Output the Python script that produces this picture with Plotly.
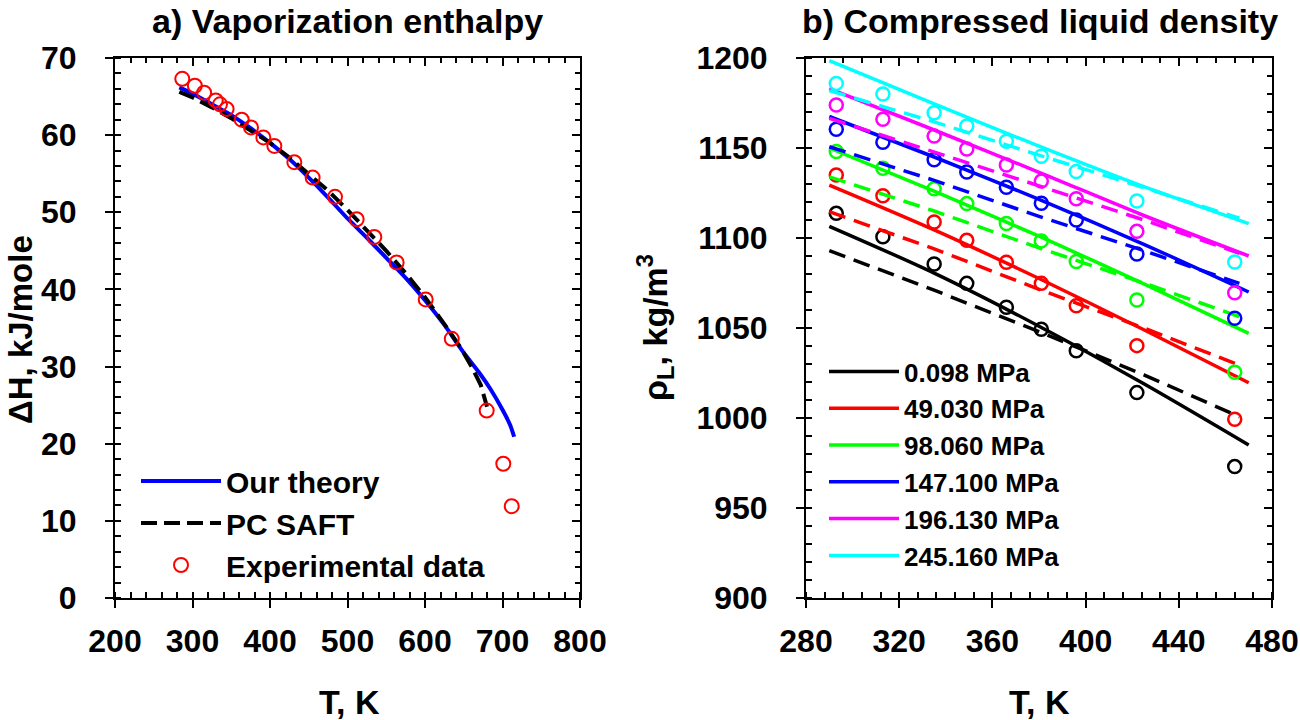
import plotly.graph_objects as go

# ---- a) Vaporization enthalpy ----
t_exp_h = [286.8, 303, 315, 330, 335.5, 344, 363.5, 375.5, 391.4, 405.6, 431.4,
           455, 483.9, 511.8, 534.6, 563.4, 600.9, 634.5, 679.6, 701, 711.9]
h_exp = [67.3, 66.4, 65.5, 64.5, 64.0, 63.4, 62.0, 61.0, 59.7, 58.6, 56.5,
         54.5, 52.0, 49.1, 46.8, 43.5, 38.7, 33.6, 24.3, 17.4, 11.9]

t_theory = [283, 300, 325, 350, 375, 400, 425, 450, 475, 500, 525, 550, 575,
            600, 625, 650, 670, 685, 700, 710, 715]
h_theory = [66.2, 65.4, 64.0, 62.6, 60.9, 59.0, 56.9, 54.5, 51.9, 49.2, 46.7, 44.1, 41.5,
            38.6, 35.4, 31.8, 29.2, 27.0, 24.4, 22.4, 20.9]

t_saft = [283, 300, 325, 350, 375, 400, 425, 450, 475, 500, 525, 550, 575,
          600, 625, 645, 660, 672, 680]
h_saft = [65.6, 64.9, 63.6, 62.2, 60.6, 59.0, 57.1, 55.0, 52.8, 50.3, 47.7, 45.0, 42.1,
          39.0, 35.5, 32.6, 30.0, 27.6, 24.8]

# ---- b) Compressed liquid density ----
pressoes = ["0.098 MPa", "49.030 MPa", "98.060 MPa", "147.100 MPa", "196.130 MPa", "245.160 MPa"]
cores = ["#000000", "#ff0000", "#00ff00", "#0000ff", "#ff00ff", "#00ffff"]

t_exp_rho = [293, 313, 335, 349, 366, 381, 396, 422, 464]
rho_exp = [
    [1113.7, 1100.7, 1085.6, 1074.8, 1061.5, 1049.3, 1037.4, 1014.1, 973.0],
    [1135.0, 1123.5, 1108.9, 1098.7, 1086.5, 1074.8, 1062.4, 1040.2, 999.3],
    [1148.0, 1138.7, 1127.4, 1119.1, 1108.1, 1098.4, 1086.9, 1065.6, 1025.4],
    [1160.4, 1153.2, 1143.5, 1136.7, 1128.2, 1119.3, 1110.0, 1091.1, 1055.4],
    [1173.9, 1166.0, 1156.6, 1149.4, 1140.6, 1131.6, 1121.8, 1103.7, 1069.6],
    [1185.9, 1180.0, 1169.6, 1162.2, 1153.8, 1145.4, 1136.9, 1120.6, 1086.7],
]

t_solid = [290, 335, 380, 425, 470]
rho_solid = [
    [1106.5, 1080.5, 1051, 1019, 985],
    [1129.4, 1104.5, 1077.5, 1049, 1019.6],
    [1150, 1126, 1101, 1074.5, 1047],
    [1167.5, 1145, 1121.5, 1096.5, 1070],
    [1183, 1160, 1136.5, 1112.5, 1090],
    [1198.5, 1174.5, 1151, 1128.5, 1108],
]

t_dash = [290, 335, 380, 425, 466]
rho_dash = [
    [1093, 1071, 1048, 1024, 1000.7],
    [1114.6, 1094, 1071.5, 1050, 1029.4],
    [1134, 1115, 1094.5, 1075, 1056.3],
    [1150.7, 1132, 1112, 1093, 1074.8],
    [1166.5, 1148, 1129, 1110, 1091.5],
    [1181.9, 1164.5, 1146, 1128, 1111],
]

FONTE = "Liberation Sans, Arial, sans-serif"

# figure fills the whole window (body margin removed after plotting)
W, H = 1300, 720


def px(x):
    return x / W


def py(y):
    return 1 - y / H


fig = go.Figure()

fig.add_trace(go.Scatter(x=t_theory, y=h_theory, mode="lines", name="Our theory",
                         line=dict(color="#0000ff", width=4, shape="spline", smoothing=0.6),
                         xaxis="x", yaxis="y", legend="legend"))
fig.add_trace(go.Scatter(x=t_saft, y=h_saft, mode="lines", name="PC SAFT",
                         line=dict(color="#000000", width=4, dash="16px,7px"),
                         xaxis="x", yaxis="y", legend="legend"))
fig.add_trace(go.Scatter(x=t_exp_h, y=h_exp, mode="markers", name="Experimental data",
                         marker=dict(symbol="circle-open", size=14, color="#ff0000", line=dict(width=2)),
                         xaxis="x", yaxis="y", legend="legend"))

for i in range(len(pressoes)):
    fig.add_trace(go.Scatter(x=t_solid, y=rho_solid[i], mode="lines", name=pressoes[i],
                             line=dict(color=cores[i], width=3.5, shape="spline", smoothing=0.8),
                             xaxis="x2", yaxis="y2", legend="legend2"))
    fig.add_trace(go.Scatter(x=t_dash, y=rho_dash[i], mode="lines", showlegend=False,
                             line=dict(color=cores[i], width=3.5, dash="17px,9px"), xaxis="x2", yaxis="y2"))
    fig.add_trace(go.Scatter(x=t_exp_rho, y=rho_exp[i], mode="markers", showlegend=False,
                             marker=dict(symbol="circle-open", size=13, color=cores[i], line=dict(width=2.5)),
                             xaxis="x2", yaxis="y2"))

# transparent copies so the top/right tick axes get drawn
fig.add_trace(go.Scatter(x=t_exp_h, y=h_exp, mode="markers", showlegend=False, hoverinfo="skip",
                         marker=dict(opacity=0), xaxis="x3", yaxis="y3"))
fig.add_trace(go.Scatter(x=t_exp_rho, y=rho_exp[0], mode="markers", showlegend=False, hoverinfo="skip",
                         marker=dict(opacity=0), xaxis="x4", yaxis="y4"))

dom_x1 = [px(115), px(580)]
dom_x2 = [px(806), px(1272)]
dom_y = [py(598), py(58)]

tickfont = dict(family=FONTE, size=32, color="black", weight="bold")


def eixo_base(dominio, faixa, passo, passo_menor, ancora, recuo):
    return dict(domain=dominio, range=faixa, dtick=passo, tick0=faixa[0], anchor=ancora,
                ticks="outside", ticklen=8, tickwidth=2, tickcolor="black",
                minor=dict(dtick=passo_menor, ticks="inside", ticklen=6, tickwidth=1.5, tickcolor="black"),
                showline=True, linewidth=2, linecolor="black", mirror=True, automargin=False,
                showgrid=False, zeroline=False, tickfont=tickfont, ticklabelstandoff=recuo)


def eixo_espelho(faixa, passo, passo_menor, sobre, ancora, lado):
    return dict(overlaying=sobre, anchor=ancora, side=lado, range=faixa, dtick=passo, tick0=faixa[0],
                ticks="inside", ticklen=8, tickwidth=2, tickcolor="black",
                minor=dict(dtick=passo_menor, ticks="inside", ticklen=5, tickwidth=1.5, tickcolor="black"),
                showticklabels=False, showline=False, showgrid=False, zeroline=False, automargin=False)


fig.update_layout(
    width=W, height=H,
    margin=dict(l=0, r=0, t=0, b=0),
    paper_bgcolor="white", plot_bgcolor="white",
    font=dict(family=FONTE, color="black"),
    xaxis=eixo_base(dom_x1, [200, 800], 100, 20, "y", 6),
    yaxis=eixo_base(dom_y, [0, 70], 10, 2, "x", 22),
    xaxis2=eixo_base(dom_x2, [280, 480], 40, 8, "y2", 6),
    yaxis2=eixo_base(dom_y, [900, 1200], 50, 10, "x2", 22),
    xaxis3=eixo_espelho([200, 800], 100, 20, "x", "y", "top"),
    yaxis3=eixo_espelho([0, 70], 10, 2, "y", "x", "right"),
    xaxis4=eixo_espelho([280, 480], 40, 8, "x2", "y2", "top"),
    yaxis4=eixo_espelho([900, 1200], 50, 10, "y2", "x2", "right"),
    legend=dict(x=px(136), y=py(455), xanchor="left", yanchor="top",
                bgcolor="rgba(0,0,0,0)", itemwidth=80,
                font=dict(family=FONTE, size=30, color="black", weight="bold")),
    legend2=dict(x=px(824), y=py(348), xanchor="left", yanchor="top",
                 bgcolor="rgba(0,0,0,0)", itemwidth=70,
                 font=dict(family=FONTE, size=26, color="black", weight="bold")),
    showlegend=True,
)

textos = [
    dict(text="a) Vaporization enthalpy", x=347, y=21, size=34, angle=0),
    dict(text="b) Compressed liquid density", x=1040, y=21, size=34, angle=0),
    dict(text="T, K", x=349, y=702, size=34, angle=0),
    dict(text="T, K", x=1039, y=702, size=34, angle=0),
    dict(text="ΔH, kJ/mole", x=21, y=330, size=33, angle=-90),
    dict(text="ρ<sub>L</sub>, kg/m<sup>3</sup>", x=655, y=328, size=34, angle=-90),
]
for t in textos:
    fig.add_annotation(text=t["text"], x=px(t["x"]), y=py(t["y"]), xref="paper", yref="paper",
                       xanchor="center", yanchor="middle", showarrow=False, textangle=t["angle"],
                       font=dict(family=FONTE, size=t["size"], color="black", weight="bold"))

fig.write_html("out.html", config={"displayModeBar": False},
               post_script="document.body.style.margin = '0';")
